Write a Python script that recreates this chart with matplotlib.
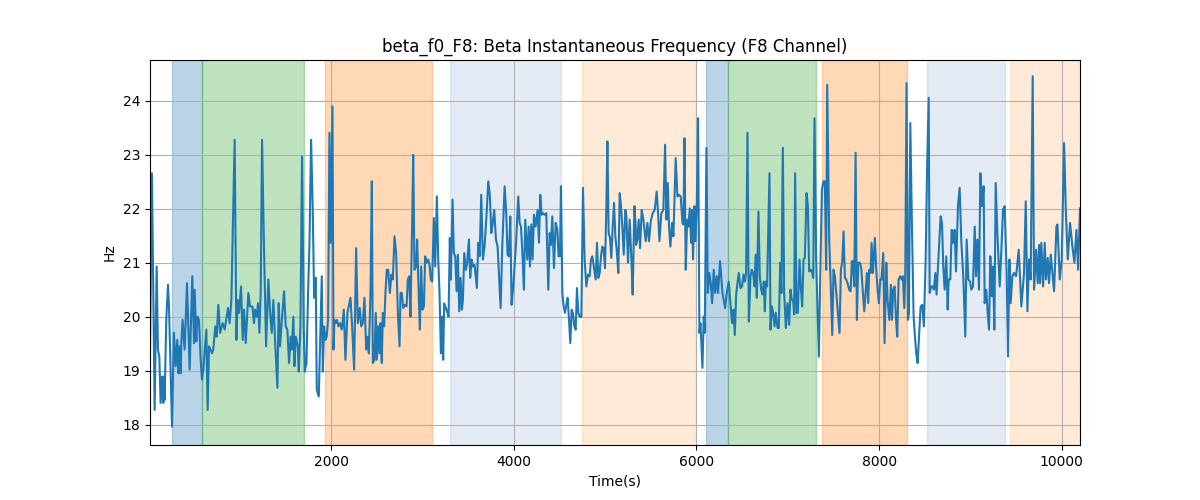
import matplotlib
matplotlib.use('Agg')
import matplotlib.pyplot as plt


# time (s) and beta instantaneous frequency (Hz)
time_s = [
	17, 38, 68, 90, 104, 119, 133, 148, 163, 170, 177, 195, 214, 225, 258, 279, 298, 316, 327, 338,
	352, 360, 374, 396, 422, 451, 480, 499, 506, 524, 535, 553, 572, 586, 601, 634, 648, 663, 681, 696,
	710, 732, 747, 765, 784, 813, 835, 871, 889, 908, 944, 963, 977, 992, 1014, 1032, 1047, 1065,
	1094, 1112, 1138, 1156, 1167, 1185, 1200, 1215, 1229, 1244, 1262, 1288, 1313, 1332, 1350, 1368,
	1386, 1412, 1426, 1441, 1463, 1485, 1503, 1521, 1540, 1558, 1569, 1587, 1598, 1613, 1635, 1646,
	1664, 1682, 1700, 1711, 1730, 1748, 1763, 1781, 1799, 1814, 1832, 1843, 1865, 1879, 1898, 1909,
	1923, 1938, 1952, 1967, 1982, 1996, 2015, 2026, 2037, 2051, 2066, 2080, 2099, 2117, 2139,
	2157, 2179, 2212, 2230, 2252, 2274, 2292, 2314, 2329, 2347, 2365, 2384, 2398, 2413, 2431, 2446,
	2457, 2475, 2489, 2500, 2515, 2530, 2541, 2555, 2566, 2581, 2595, 2610, 2625, 2643, 2661, 2676,
	2694, 2712, 2731, 2749, 2760, 2774, 2789, 2807, 2826, 2840, 2855, 2869, 2888, 2899, 2913, 2931,
	2942, 2961, 2972, 2986, 3001, 3016, 3030, 3045, 3063, 3078, 3092, 3107, 3125, 3140, 3158, 3173,
	3187, 3202, 3216,
	3227, 3238, 3275, 3286, 3300, 3311, 3330, 3344, 3359, 3374, 3388, 3403, 3417, 3432, 3443, 3458,
	3476, 3490, 3509, 3523, 3538, 3553, 3571, 3596, 3611, 3626, 3644, 3662, 3680, 3699, 3721, 3739,
	3754, 3768, 3786, 3805, 3823, 3841, 3856, 3874, 3900, 3918, 3932, 3947, 3962, 3976, 3995, 4027,
	4049, 4064, 4079, 4093, 4111, 4126, 4148, 4163, 4177, 4192, 4206, 4221, 4239, 4261, 4276,
	4290, 4305, 4320, 4338, 4356, 4378, 4393, 4407, 4422, 4440, 4459, 4477, 4491, 4506, 4517, 4532,
	4546, 4561, 4575, 4590, 4605, 4619, 4634, 4648, 4663, 4678, 4692, 4707, 4722, 4740, 4758, 4776,
	4795, 4813, 4831, 4846, 4860, 4879, 4897, 4911, 4926, 4941, 4955, 4970, 4984, 4999, 5014, 5025,
	5039, 5054, 5068, 5083, 5098, 5112, 5127, 5145, 5160, 5174, 5189, 5204, 5222, 5233, 5251, 5269,
	5288, 5302, 5321, 5335,
	5339, 5353, 5368, 5383, 5401, 5419, 5445, 5463, 5481, 5500, 5522, 5543, 5565, 5580, 5595, 5616,
	5638, 5657, 5671, 5686, 5700, 5715, 5733, 5748, 5773, 5792, 5810, 5828, 5847, 5858, 5869, 5883,
	5898, 5912, 5927, 5942, 5953, 5963, 5978, 5989, 6004, 6018, 6033, 6044, 6066, 6080, 6091, 6110,
	6124, 6142, 6157, 6172, 6190, 6205, 6223, 6237, 6259, 6285, 6314, 6332, 6354, 6369,
	6391, 6405, 6420, 6435, 6449, 6464, 6482, 6500, 6515, 6530, 6544, 6559, 6574, 6592, 6606, 6621,
	6636, 6650, 6661, 6679, 6694, 6709, 6723, 6738, 6749, 6760, 6774, 6800, 6811, 6826, 6840, 6855,
	6869, 6888, 6902, 6917, 6931, 6946, 6961, 6979, 6997, 7016, 7030, 7045, 7059, 7070, 7081, 7096,
	7110, 7129, 7143, 7158, 7173, 7187, 7206, 7220, 7235, 7253, 7268, 7279, 7293, 7311, 7341, 7359,
	7374, 7392, 7406, 7421, 7432, 7450,
	7454, 7472, 7487, 7501, 7516, 7531, 7549, 7567, 7582, 7596, 7611, 7626, 7640, 7655, 7673, 7688,
	7702, 7713, 7728, 7743, 7757, 7772, 7790, 7805, 7823, 7838, 7852, 7867, 7881, 7892, 7907, 7918,
	7933, 7954, 7969, 7984, 7998, 8013, 8027, 8046, 8060, 8079, 8093, 8112, 8130, 8141, 8155, 8170,
	8185, 8199, 8214, 8232, 8247, 8261, 8276, 8287, 8301, 8316, 8327, 8342, 8360, 8378, 8393, 8407,
	8422, 8437, 8455, 8473, 8491, 8510, 8524,
	8543, 8554, 8572, 8586, 8601, 8616, 8630, 8645, 8674, 8689, 8703, 8718, 8736, 8751, 8762, 8780,
	8795, 8809, 8827, 8842, 8864, 8882, 8901, 8922, 8944, 8959, 8977, 8996, 9010, 9028, 9047, 9061,
	9076, 9094, 9109, 9127, 9145, 9156, 9174, 9189, 9204, 9218, 9233, 9248, 9262, 9277, 9295, 9321,
	9339, 9357, 9375, 9397, 9412, 9427, 9441, 9459, 9478, 9500, 9529, 9558, 9587,
	9606, 9624, 9642, 9660, 9682, 9697, 9719, 9737, 9752, 9763, 9777, 9796, 9814, 9828, 9847, 9861,
	9880, 9916, 9942, 9953, 9978, 10000, 10026, 10044, 10066, 10091, 10117, 10139, 10161, 10179, 10200,
]

beta_hz = [
	19.32, 22.66, 18.27, 20.93, 19.39, 19.26, 18.40, 18.89, 18.40, 18.89, 18.46, 19.94, 20.59, 20.19, 17.96, 19.70, 19.08, 19.57, 18.95, 19.45,
	18.95, 19.51, 19.94, 19.39, 20.62, 19.02, 20.75, 19.51, 20.50, 19.54, 20.00, 19.94, 19.20, 18.83, 19.02, 19.76, 18.27, 19.45, 19.39, 19.32,
	19.39, 19.82, 19.63, 20.22, 19.70, 19.88, 19.76, 20.16, 19.88, 20.31, 23.28, 19.57, 20.31, 20.07, 20.56, 19.57, 20.13, 19.51,
	20.44, 20.19, 20.19, 19.88, 20.13, 20.00, 20.25, 19.70, 20.44, 23.28, 21.55, 19.45, 20.69, 20.07, 19.70, 20.31,
	19.57, 18.68, 20.25, 19.45, 20.00, 20.47, 19.82, 19.76, 19.14, 19.63, 19.39, 20.00, 19.08, 19.63, 19.45, 18.98,
	19.82, 22.97, 19.82, 18.98, 19.14, 20.44, 21.37, 23.28, 21.98, 20.35, 20.72, 18.64, 18.52, 19.45, 20.75, 18.98,
	19.82, 19.57, 19.63, 19.94, 23.41, 21.37, 23.90, 19.39, 19.94, 19.88, 19.94, 19.82, 19.88, 19.76, 20.13,
	19.20, 20.07, 20.35, 19.82, 19.02, 21.27, 19.88, 20.16, 19.82, 19.88, 20.35, 19.39, 19.63, 19.32, 20.44, 22.51,
	19.14, 19.20, 20.07, 19.20, 19.82, 19.32, 19.88, 19.14, 20.07, 19.82, 20.44, 20.87, 20.87, 20.44, 20.78, 20.69,
	21.49, 21.18, 20.07, 19.45, 20.44, 20.44, 20.16, 20.22, 20.19, 20.69, 20.75, 20.00, 21.80, 23.00, 20.87, 20.93,
	21.43, 20.31, 19.76, 20.93, 20.13, 20.19, 21.12, 21.00, 21.06, 20.96, 20.69, 20.65, 21.83, 20.93, 22.23, 21.06,
	20.44, 19.32, 20.00,
	19.20, 20.25, 20.07, 20.00, 21.46, 20.69, 22.17, 21.18, 21.12, 20.47, 21.15, 20.10, 20.72, 20.13, 20.31, 21.18,
	20.87, 21.00, 21.43, 20.72, 21.06, 20.93, 20.96, 20.53, 21.37, 21.12, 22.26, 21.06, 21.30, 21.80, 22.51, 22.23,
	21.55, 21.71, 21.98, 21.43, 21.30, 20.69, 20.16, 21.30, 22.42, 21.92, 21.15, 21.12, 21.86, 20.22, 20.56, 21.43,
	22.23, 21.74, 21.67, 21.24, 20.50, 21.80, 21.06, 21.67, 20.93, 21.71, 21.06, 21.89, 21.67, 21.98, 21.37,
	22.26, 21.89, 21.92, 21.89, 21.92, 20.50, 21.55, 21.33, 21.86, 20.90, 21.74, 21.61, 21.12, 21.12, 22.42, 20.44,
	20.19, 20.07, 20.22, 20.35, 19.94, 19.51, 20.13, 20.07, 19.82, 19.76, 20.53, 20.07, 20.00, 20.00, 22.39, 21.06,
	20.56, 20.78, 20.75, 21.06, 21.12, 20.90, 20.69, 21.37, 20.72, 20.81, 21.12, 21.30, 21.27, 20.90, 22.05, 23.25,
	21.55, 21.46, 21.09, 21.67, 22.11, 21.49, 21.24, 20.81, 22.29, 22.05, 21.67, 21.15, 21.98, 21.86, 21.00, 21.80,
	21.06, 20.41, 22.05, 21.67,
	21.33, 21.43, 21.80, 21.27, 21.98, 21.80, 21.40, 21.74, 21.40, 21.77, 21.92, 21.98, 22.32, 21.92, 21.40, 21.92,
	21.98, 23.19, 21.80, 22.48, 21.67, 21.30, 21.74, 21.49, 22.94, 22.23, 22.26, 22.23, 21.74, 21.71, 23.31, 20.87,
	21.80, 21.67, 22.01, 21.37, 21.98, 21.06, 22.05, 21.40, 22.05, 23.68, 19.70, 19.88, 19.05, 20.00, 19.70, 23.13,
	20.44, 20.81, 20.62, 20.25, 20.87, 20.44, 20.75, 20.44, 21.03, 20.44, 20.16, 20.44, 20.65, 20.31,
	19.88, 20.13, 19.66, 20.41, 20.62, 20.81, 20.53, 20.56, 20.78, 20.65, 20.81, 23.41, 19.91, 20.75, 20.87, 20.81,
	20.56, 21.15, 20.35, 21.95, 20.75, 20.50, 20.41, 20.65, 20.10, 20.65, 20.56, 22.66, 19.76, 20.19, 20.07, 19.82,
	20.07, 19.79, 19.79, 21.00, 20.44, 23.13, 20.44, 19.79, 20.25, 19.85, 20.50, 20.31, 20.31, 20.04, 22.66, 20.07,
	20.07, 21.06, 20.56, 20.19, 21.06, 21.09, 22.29, 22.05, 20.84, 20.87, 20.81, 20.72, 23.68, 21.06, 19.26, 21.06,
	22.36, 22.51, 22.51, 20.87, 24.30, 22.05,
	21.43, 20.50, 19.66, 20.87, 20.75, 20.44, 20.07, 19.70, 20.87, 21.00, 21.58, 20.72, 20.69, 20.62, 20.50, 20.47,
	21.03, 21.03, 20.56, 23.04, 19.94, 21.00, 21.00, 20.90, 20.44, 20.10, 20.44, 20.81, 20.25, 20.87, 20.81, 21.37,
	20.81, 21.46, 20.87, 20.50, 20.25, 20.69, 20.69, 21.18, 19.51, 21.00, 20.31, 19.94, 20.59, 19.94, 20.50, 20.56,
	19.97, 19.63, 20.69, 20.75, 20.69, 20.75, 20.16, 20.81, 24.33, 19.94, 20.07, 23.59, 21.67, 20.00, 19.63, 19.32,
	19.14, 19.63, 20.19, 20.22, 19.82, 21.06, 22.60,
	24.06, 20.44, 20.56, 20.56, 20.50, 20.81, 20.41, 20.93, 21.86, 21.74, 20.93, 20.50, 21.12, 20.13, 20.69, 20.69,
	21.61, 21.37, 21.61, 20.84, 22.05, 22.39, 21.37, 20.75, 19.63, 21.43, 20.69, 20.65, 20.50, 20.56, 21.67, 20.75,
	21.43, 20.50, 22.66, 22.05, 22.42, 20.25, 20.50, 20.07, 19.76, 21.12, 20.38, 20.93, 19.76, 22.48, 21.55, 20.56,
	21.24, 21.98, 22.05, 20.81, 19.26, 21.06, 20.25, 20.75, 20.81, 20.75, 21.24, 20.19, 20.81,
	22.14, 20.10, 21.06, 20.69, 24.46, 20.50, 21.24, 20.62, 21.33, 20.62, 21.37, 20.56, 21.37, 20.69, 21.09, 20.62,
	21.15, 20.47, 21.67, 21.71, 20.69, 21.06, 23.22, 22.01, 21.06, 21.74, 21.30, 21.00, 21.61, 20.87, 22.01,
]

# shaded segments: start, end, colour, alpha
span_start = [258, 586, 1934, 3304, 4751, 6110, 6351, 7370, 8521, 9431]
span_end = [586, 1704, 3107, 4521, 6000, 6351, 7304, 8302, 9376, 10200]
span_color = ['tab:blue', 'tab:green', 'tab:orange', 'lightsteelblue', 'tab:orange',
	'tab:blue', 'tab:green', 'tab:orange', 'lightsteelblue', 'tab:orange']
span_alpha = [0.3, 0.3, 0.3, 0.33, 0.16, 0.3, 0.3, 0.3, 0.33, 0.16]


fig, ax = plt.subplots(figsize=(12, 5), dpi=100)

for s, e, c, a in zip(span_start, span_end, span_color, span_alpha):
	ax.axvspan(s, e, color=c, alpha=a)

ax.plot(time_s, beta_hz, color='tab:blue', linewidth=1.5)

ax.set_xlim(time_s[0], time_s[-1])
ax.set_ylim(17.62, 24.76)
ax.grid(True)
ax.set_title('beta_f0_F8: Beta Instantaneous Frequency (F8 Channel)')
ax.set_xlabel('Time(s)')
ax.set_ylabel('Hz')

fig.savefig('out.png')
